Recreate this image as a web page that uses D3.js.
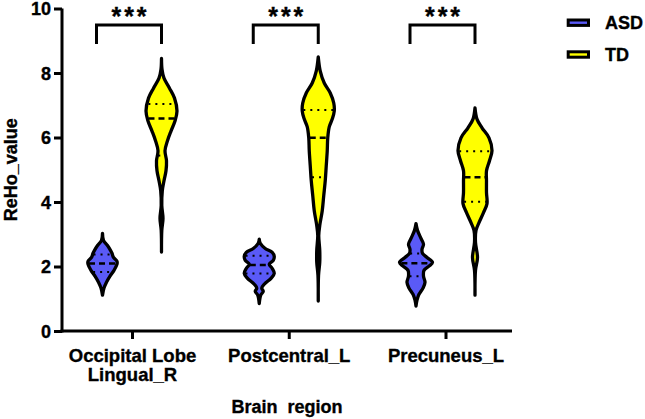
<!DOCTYPE html>
<html>
<head>
<meta charset="utf-8">
<script src="https://cdn.jsdelivr.net/npm/d3@7"></script>
<style>
  html, body { margin: 0; padding: 0; background: #fff; }
  svg text { font-family: "Liberation Sans", Arial, Helvetica, sans-serif; font-weight: bold; fill: #000; stroke: #000; stroke-width: 0.35px; }
</style>
</head>
<body>
<svg id="chart" width="645" height="419"></svg>
<script>
// ---------- data ----------
const categories = ["Occipital Lobe\nLingual_R", "Postcentral_L", "Precuneus_L"];
const groups = ["ASD", "TD"];
const yTicks = [0, 2, 4, 6, 8, 10];
const significance = ["***", "***", "***"];

// violin density profiles: [value, density]
const asdProfiles = [
  [[3.03,0],[2.81,1],[2.65,5],[2.50,8],[2.41,9.5],[2.28,11],[2.16,14.5],[2.07,14.5],[1.88,11.5],[1.70,7.5],[1.51,4],[1.33,1.5],[1.11,0]],
  [[2.85,0],[2.72,1],[2.56,6],[2.44,13],[2.31,15],[2.19,14],[2.07,10],[1.94,13],[1.79,15],[1.64,12],[1.45,5],[1.33,2.5],[1.23,4],[1.11,1.5],[0.85,0]],
  [[3.33,0],[3.12,1.5],[2.87,5],[2.69,7.5],[2.53,6],[2.41,6.5],[2.28,11],[2.13,16.5],[2.01,13],[1.88,8],[1.70,7.5],[1.51,9],[1.33,7],[1.14,3],[0.96,1],[0.77,0]]
];
const tdProfiles = [
  [[8.45,0],[8.12,0.5],[7.84,2.5],[7.53,8],[7.22,13],[6.82,15.5],[6.51,13.5],[6.20,9.5],[5.90,6],[5.59,3.5],[5.28,5],[4.97,4.5],[4.66,2.5],[4.35,0.8],[3.89,0.3],[3.49,1.5],[3.12,0.3],[2.45,0]],
  [[8.50,0],[8.06,2],[7.69,6],[7.38,12],[7.07,15.5],[6.82,16],[6.57,14],[6.33,11],[5.99,9.5],[5.59,9],[5.12,8],[4.66,7],[4.20,5.5],[3.73,4],[3.27,1.5],[2.96,0.5],[2.50,1.5],[2.13,1.5],[1.73,0.3],[0.93,0]],
  [[6.92,0],[6.57,2],[6.30,7],[5.99,14],[5.59,17],[5.28,14.5],[4.97,11.5],[4.66,11.5],[4.29,11.5],[3.95,12],[3.67,8.5],[3.36,4],[3.12,1],[2.75,0.5],[2.28,2.5],[1.88,0.5],[1.11,0]]
];
// quartiles: [Q1, median, Q3]
const asdQuartiles = [[1.83, 2.09, 2.37], [1.78, 2.05, 2.33], [1.70, 2.10, 2.40]];
const tdQuartiles  = [[5.44, 6.59, 7.04], [4.77, 5.99, 6.85], [4.01, 4.77, 5.57]];

// ---------- layout ----------
const colors = { ASD: "#5a5af7", TD: "#ffff00" };
const svg = d3.select("#chart");
const axisLeftX = 62, axisBottomY = 331, axisRightX = 512;

const y = d3.scaleLinear().domain([0, 10]).range([axisBottomY, 8.5]);
const x = d3.scalePoint().domain(categories).range([132, 445.5]);
const sub = d3.scalePoint().domain(groups).range([-29.5, 29.5]);
const w = d3.scaleLinear().domain([0, 17]).range([0, 17]);

// ---------- axes ----------
const yAxis = d3.axisLeft(y).tickValues(yTicks).tickSize(8).tickSizeOuter(0).tickPadding(3);
const yg = svg.append("g").attr("transform", `translate(${axisLeftX},0)`).call(yAxis);
yg.select(".domain").attr("stroke-width", 3).attr("d", `M0,${y(10)}V${axisBottomY + 1.5}`);
yg.selectAll(".tick line").attr("stroke-width", 3);
yg.selectAll(".tick text").style("font-size", "18px").attr("dy", "0.36em");

svg.append("line").attr("x1", axisLeftX - 1.5).attr("x2", axisRightX)
  .attr("y1", axisBottomY).attr("y2", axisBottomY).attr("stroke", "#000").attr("stroke-width", 3);
const xAxis = d3.axisBottom(x).tickSize(8).tickSizeOuter(0);
const xg = svg.append("g").attr("transform", `translate(0,${axisBottomY})`).call(xAxis);
xg.select(".domain").remove();
xg.selectAll(".tick line").attr("stroke-width", 3);
xg.selectAll(".tick text").each(function(d) {
  const t = d3.select(this).text(null).attr("y", null).attr("dy", null).style("font-size", "18.5px");
  d.split("\n").forEach((line, i) => {
    t.append("tspan").attr("x", 0).attr("y", 30.5 + i * 19.5).text(line);
  });
});

svg.append("text").attr("x", (axisLeftX + axisRightX) / 2).attr("y", 413)
  .attr("text-anchor", "middle").style("font-size", "18px").style("white-space", "pre")
  .text("Brain  region");
svg.append("text").attr("transform", `translate(16.5,${(y(0) + y(10)) / 2}) rotate(-90)`)
  .attr("text-anchor", "middle").style("font-size", "18px").text("ReHo_value");

// ---------- violins ----------
function widthAt(profile, v) {
  for (let i = 0; i < profile.length - 1; i++) {
    const a = profile[i], b = profile[i + 1];
    if (v <= a[0] && v >= b[0]) {
      const t = (a[0] - v) / (a[0] - b[0]);
      return a[1] + t * (b[1] - a[1]);
    }
  }
  return 0;
}

function drawViolin(cx, profile, quart, color) {
  const area = d3.area()
    .y(d => y(d[0]))
    .x0(d => cx - w(d[1]))
    .x1(d => cx + w(d[1]))
    .curve(d3.curveCatmullRom.alpha(0.5));
  svg.append("path").attr("d", area(profile))
    .attr("fill", color).attr("stroke", "#000").attr("stroke-width", 3.3)
    .attr("stroke-linejoin", "round");
  quart.forEach((q, i) => {
    const hw = Math.max(w(widthAt(profile, q)) - 1, 1);
    svg.append("line").attr("x1", cx - hw).attr("x2", cx + hw)
      .attr("y1", y(q)).attr("y2", y(q))
      .attr("stroke", "#000")
      .attr("stroke-width", i === 1 ? 2.5 : 2)
      .attr("stroke-dasharray", i === 1 ? "6,4" : "2,5");
  });
}

categories.forEach((c, i) => {
  drawViolin(x(c) + sub("ASD"), asdProfiles[i], asdQuartiles[i], colors.ASD);
  drawViolin(x(c) + sub("TD"), tdProfiles[i], tdQuartiles[i], colors.TD);
});

// ---------- significance brackets ----------
categories.forEach((c, i) => {
  const x1 = x(c) + sub("ASD") - 6, x2 = x(c) + sub("TD");
  svg.append("path").attr("d", `M${x1},44V25H${x2}V44`)
    .attr("fill", "none").attr("stroke", "#000").attr("stroke-width", 3);
  svg.append("text").attr("x", (x1 + x2) / 2 + 1.5).attr("y", 25)
    .attr("text-anchor", "middle").style("font-size", "25px").style("letter-spacing", "3px")
    .text(significance[i]);
});

// ---------- legend ----------
groups.forEach((g, i) => {
  const ly = 20 + i * 31.8;
  svg.append("rect").attr("x", 568.2).attr("y", ly).attr("width", 20.3).attr("height", 5.4)
    .attr("fill", colors[g]).attr("stroke", "#000").attr("stroke-width", 3);
  svg.append("text").attr("x", 605).attr("y", ly + 9.3).style("font-size", "18px").text(g);
});
</script>
</body>
</html>
